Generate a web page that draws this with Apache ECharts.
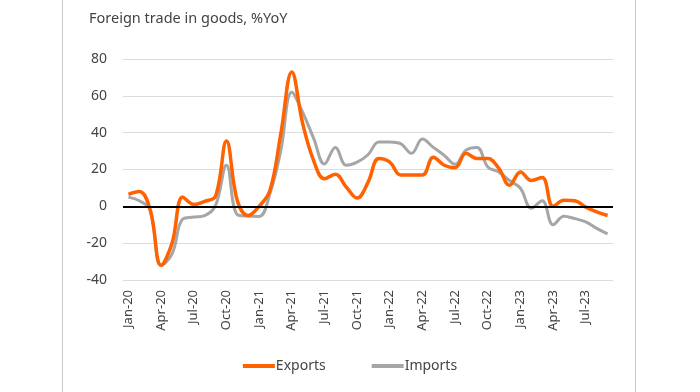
<!DOCTYPE html>
<html>
<head>
<meta charset="utf-8">
<script src="https://cdn.jsdelivr.net/npm/echarts@6/dist/echarts.min.js"></script>
<style>html,body{margin:0;padding:0;background:#fff}#c{width:700px;height:392px}</style>
</head>
<body>
<div id="c"></div>
<script>
const months = ['Jan','Feb','Mar','Apr','May','Jun','Jul','Aug','Sep','Oct','Nov','Dec'];
const categories = [];
for (let y = 20; y <= 23; y++) for (let m = 0; m < 12; m++) {
  if (y === 23 && m > 8) break;
  categories.push(months[m] + '-' + y);
}
const exportsYoY = [6.5, 8, -2, -32, -20, 5, 1, 2.7, 5.5, 35.5, 3, -5,
  0, 8.7, 39.7, 73, 45, 25, 15, 17.4, 10.5, 4.5, 13, 26,
  24, 17, 17, 17, 26.6, 22.3, 21, 28.8, 26, 26, 20.7, 11.4,
  18.7, 14, 15.7, 0, 3.3, 3, -0.4, -3, -5];
const importsYoY = [5, 3, -2, -32, -26, -6.8, -5.8, -5, 0.5, 22.3, -4.5, -5.3,
  -5.5, 7, 30.5, 62, 51, 37, 23, 32, 22.3, 24, 28, 35,
  35, 34, 28.8, 36.5, 32, 27.7, 22.8, 30.5, 32, 21.4, 18.7, 14,
  9.8, -1, 3, -10, -5.4, -6.7, -8.5, -12, -15];
const yTicks = { min: -40, max: 80, interval: 20 };

const chart = echarts.init(document.getElementById('c'));
const font = 'Noto Sans';
chart.setOption({
  animation: false,
  textStyle: { fontFamily: font },
  title: {
    text: 'Foreign trade in goods, %YoY',
    left: 84, top: 6,
    textStyle: { fontSize: 14.5, fontWeight: 'normal', color: '#444', fontFamily: font }
  },
  graphic: [
    { type: 'line', shape: { x1: 62.5, y1: 0, x2: 62.5, y2: 392 }, style: { stroke: '#c8c8c8', lineWidth: 1 } },
    { type: 'line', shape: { x1: 635.5, y1: 0, x2: 635.5, y2: 392 }, style: { stroke: '#c8c8c8', lineWidth: 1 } }
  ],
  legend: {
    bottom: 14,
    left: 'center',
    itemGap: 46,
    itemWidth: 32,
    itemHeight: 4,
    icon: 'rect',
    textStyle: { fontSize: 14, color: '#444', fontFamily: font, padding: [0, 0, 0, -4] },
    data: ['Exports', 'Imports']
  },
  grid: { left: 123, right: 87, top: 59, bottom: 112 },
  xAxis: {
    type: 'category',
    data: categories,
    boundaryGap: true,
    axisLine: { show: false },
    axisTick: { show: false },
    axisLabel: { interval: 2, rotate: 90, fontSize: 13, color: '#444', margin: 10, fontFamily: font }
  },
  yAxis: {
    type: 'value',
    min: yTicks.min, max: yTicks.max, interval: yTicks.interval,
    axisLine: { show: false },
    axisTick: { show: false },
    axisLabel: { fontSize: 14, color: '#444', margin: 16, fontFamily: font },
    splitLine: { lineStyle: { color: '#dcdcdc', width: 1 } }
  },
  series: [
    {
      name: 'Imports', type: 'line', data: importsYoY, smooth: 0.4,
      symbol: 'none', z: 2,
      lineStyle: { color: '#a6a6a6', width: 3 }, itemStyle: { color: '#a6a6a6' },
      markLine: {
        silent: true, symbol: 'none', label: { show: false },
        lineStyle: { color: '#000', width: 2, type: 'solid' },
        data: [{ yAxis: 0 }]
      }
    },
    {
      name: 'Exports', type: 'line', data: exportsYoY, smooth: 0.4,
      symbol: 'none', z: 3,
      lineStyle: { color: '#ff6200', width: 3.5 }, itemStyle: { color: '#ff6200' }
    }
  ]
});
</script>
</body>
</html>
